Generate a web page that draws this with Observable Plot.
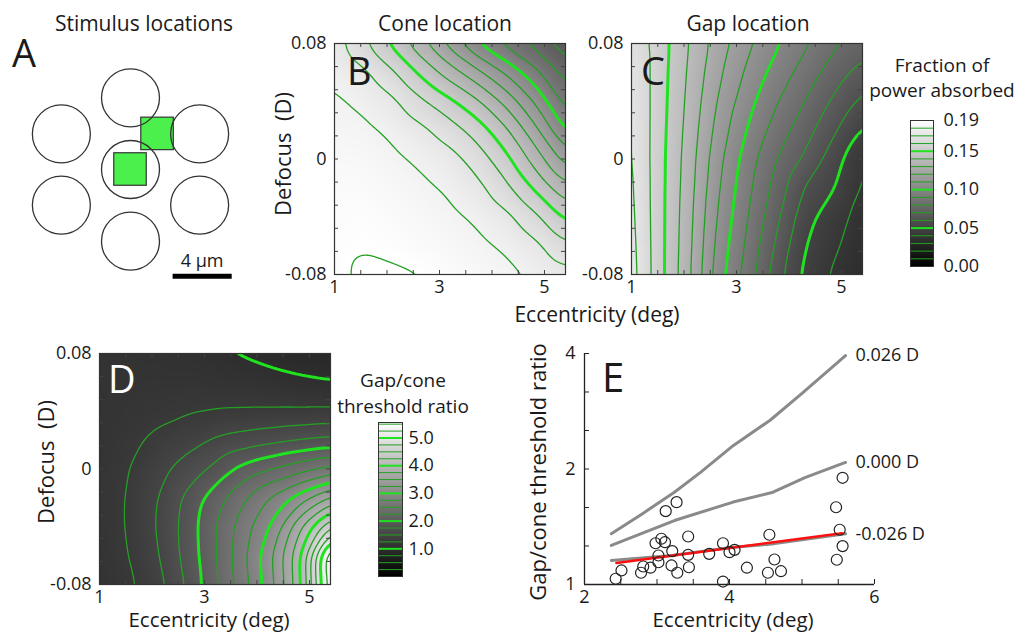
<!DOCTYPE html>
<html><head><meta charset="utf-8">
<script src="https://cdn.jsdelivr.net/npm/d3@7"></script>
<script src="https://cdn.jsdelivr.net/npm/@observablehq/plot@0.6"></script>
<style>
body{margin:0;background:#fff;}
#fig{position:relative;width:1018px;height:634px;overflow:hidden;background:#fff;}
</style></head><body><div id="fig"></div>
<script>
// ---------- Panel A: stimulus geometry (micrometres) ----------
const coneX = [0, -4.68, 4.68, 0, -4.68, 4.68, 0];
const coneY = [4.85, 2.41, 2.41, 0, -2.41, -2.41, -4.85];
const stimX = [0, 1.83];
const stimY = [0, 2.41];
const scaleBarUm = 4;
const scaleBarLabel = "4 µm";

// ---------- Panels B, C, D: sampled fields ----------
const gridEcc = [1, 1.55, 2.1, 2.65, 3.2, 3.75, 4.3, 4.85, 5.4];
const gridDefocus = [0.08, 0.06, 0.04, 0.02, 0, -0.02, -0.04, -0.06, -0.08];
const coneAbsorbed = [
  [0.1745, 0.162, 0.148, 0.133, 0.116, 0.099, 0.086, 0.076, 0.064],
  [0.178, 0.1725, 0.162, 0.148, 0.135, 0.122, 0.108, 0.092, 0.076],
  [0.1815, 0.1785, 0.1725, 0.162, 0.152, 0.141, 0.126, 0.108, 0.086],
  [0.183, 0.182, 0.1785, 0.1725, 0.165, 0.155, 0.141, 0.122, 0.099],
  [0.185, 0.1845, 0.182, 0.1785, 0.174, 0.165, 0.152, 0.135, 0.116],
  [0.1865, 0.1865, 0.1845, 0.182, 0.1785, 0.1725, 0.162, 0.148, 0.133],
  [0.1875, 0.1885, 0.1865, 0.1845, 0.182, 0.1785, 0.1725, 0.162, 0.148],
  [0.1885, 0.1895, 0.1885, 0.1865, 0.1845, 0.182, 0.1785, 0.1725, 0.162],
  [0.188, 0.1915, 0.191, 0.1902, 0.1875, 0.185, 0.1825, 0.178, 0.1735]
];
const gapAbsorbed = [
  [0.168, 0.1545, 0.1397, 0.1252, 0.1126, 0.1016, 0.0918, 0.082, 0.075],
  [0.1705, 0.1541, 0.1385, 0.1222, 0.1083, 0.0964, 0.086, 0.0753, 0.0663],
  [0.171, 0.1538, 0.1374, 0.1191, 0.1039, 0.0911, 0.0802, 0.0685, 0.0575],
  [0.1715, 0.1534, 0.1362, 0.1161, 0.0996, 0.0859, 0.0744, 0.0618, 0.0488],
  [0.172, 0.153, 0.135, 0.113, 0.0952, 0.0806, 0.0686, 0.055, 0.040],
  [0.1728, 0.153, 0.1343, 0.1109, 0.0929, 0.0767, 0.059, 0.0509, 0.0383],
  [0.1735, 0.153, 0.1335, 0.1088, 0.0906, 0.0728, 0.054, 0.044, 0.0365],
  [0.1743, 0.153, 0.1328, 0.1066, 0.0883, 0.0689, 0.05, 0.0415, 0.0348],
  [0.175, 0.153, 0.132, 0.1045, 0.086, 0.065, 0.0474, 0.0385, 0.033]
];
const gapConeRatio = [
  [1.1, 1.1, 1.09, 1.06, 1.02, 0.98, 0.93, 0.9, 0.88],
  [1.11, 1.12, 1.13, 1.13, 1.12, 1.1, 1.07, 1.03, 1.0],
  [1.12, 1.15, 1.19, 1.22, 1.252, 1.26, 1.265, 1.27, 1.28],
  [1.13, 1.2, 1.3, 1.4, 1.52, 1.6, 1.67, 1.74, 1.8],
  [1.14, 1.24, 1.42, 1.61, 1.81, 2.08, 2.25, 2.42, 2.57],
  [1.14, 1.26, 1.49, 1.8, 2.14, 2.47, 2.8, 3.15, 3.55],
  [1.14, 1.26, 1.51, 1.84, 2.24, 2.65, 3.05, 3.76, 4.5],
  [1.13, 1.24, 1.47, 1.83, 2.22, 2.7, 3.25, 4.0, 5.6],
  [1.12, 1.2, 1.4, 1.77, 2.2, 2.65, 3.2, 3.97, 5.5]
];
const eccTicks = [1, 3, 5];
const eccTickLabels = ["1", "3", "5"];
const defocusTicks = [-0.08, 0, 0.08];
const defocusTickLabels = ["-0.08", "0", "0.08"];
const eccMinor = [1.5, 2, 2.5, 3, 3.5, 4, 4.5, 5];
const defocusMinor = [-0.064, -0.048, -0.032, -0.016, 0, 0.016, 0.032, 0.048, 0.064];
const absorbedMax = 0.19;
const absorbedTicks = [0, 0.05, 0.10, 0.15, 0.19];
const absorbedTickLabels = ["0.00", "0.05", "0.10", "0.15", "0.19"];
const absorbedThick = [0.05, 0.10, 0.15];
const absorbedThin = [0.01,0.02,0.03,0.04,0.06,0.07,0.08,0.09,0.11,0.12,0.13,0.14,0.16,0.17,0.18,0.19];
const ratioMax = 5.56;
const ratioTicks = [1, 2, 3, 4, 5];
const ratioTickLabels = ["1.0", "2.0", "3.0", "4.0", "5.0"];
const ratioThick = [1, 2, 3, 4, 5];
const ratioThin = [0.25,0.5,0.75,1.25,1.5,1.75,2.25,2.5,2.75,3.25,3.5,3.75,4.25,4.5,4.75,5.25,5.5];

// ---------- Panel E ----------
const obsEcc = [2.43,2.51,2.78,2.81,2.91,2.98,3.02,3.02,3.06,3.11,3.12,3.2,3.21,3.27,3.28,3.43,3.43,3.44,3.72,3.91,3.91,4.0,4.07,4.24,4.53,4.55,4.62,4.71,5.47,5.48,5.52,5.56,5.56];
const obsRatio = [1.035,1.088,1.073,1.114,1.106,1.281,1.19,1.143,1.316,1.289,1.553,1.121,1.222,1.639,1.073,1.334,1.195,1.109,1.202,1.281,1.018,1.214,1.231,1.106,1.073,1.348,1.162,1.083,1.59,1.16,1.389,1.897,1.259];
const curvePosEcc = [2.37, 2.8, 3.24, 3.6, 4.05, 4.56, 5.0, 5.6];
const curvePosRatio = [1.356, 1.53, 1.74, 1.96, 2.3, 2.68, 3.15, 3.95];
const curveZeroEcc = [2.37, 3.24, 4.05, 4.6, 5.04, 5.6];
const curveZeroRatio = [1.264, 1.468, 1.64, 1.74, 1.9, 2.08];
const curveNegEcc = [2.37, 3.2, 4.05, 4.6, 5.6];
const curveNegRatio = [1.155, 1.19, 1.251, 1.276, 1.356];
const fitEcc = [2.44, 5.55];
const fitRatio = [1.137, 1.36];
const curveLabels = ["0.026 D", "0.000 D", "-0.026 D"];
const eTicksX = [2, 4, 6];
const eTicksXLabels = ["2", "4", "6"];
const eTicksY = [1, 2, 4];
const eTicksYLabels = ["1", "2", "4"];
const eMinorX = [2.5, 3, 3.5, 4, 4.5, 5, 5.5, 6];
const eMinorY = [1.26, 1.587, 2, 2.52, 3.175, 4];

// ---------- drawing ----------
const fig = document.getElementById("fig");
const FONT = '"Open Sans", sans-serif';
const style = {fontFamily: FONT, fontSize: "18px", color: "#1a1a1a", background: "transparent", overflow: "visible"};
const THIN = "#23a023", THICK = "#1ee31e";
function place(node, left, top) {
  node.style.position = "absolute";
  node.style.left = left + "px";
  node.style.top = top + "px";
  fig.appendChild(node);
}
const lookup = (ticks, labels) => d => labels[ticks.findIndex(t => Math.abs(t - d) < 1e-9)];

// Panel A
const cones = coneX.map((x, i) => ({x, y: coneY[i]}));
const stims = stimX.map((x, i) => ({x, y: stimY[i]}));
const half = 1.1;
place(Plot.plot({
  width: 260, height: 260, margin: 0,
  x: {domain: [-8.8, 8.8], axis: null}, y: {domain: [-8.8, 8.8], axis: null},
  style,
  marks: [
    Plot.rect(stims, {x1: d => d.x - half, x2: d => d.x + half, y1: d => d.y - half, y2: d => d.y + half, fill: "#4cf04c", stroke: "#333", strokeWidth: 1.2}),
    Plot.dot(cones, {x: "x", y: "y", r: 29, stroke: "#333", strokeWidth: 1.3, fill: "none"}),
    Plot.link([{x1: 2.85, x2: 2.85 + scaleBarUm, y: -7.22}], {x1: "x1", x2: "x2", y1: "y", y2: "y", stroke: "#000", strokeWidth: 5}),
    Plot.text([scaleBarLabel], {x: 2.85 + scaleBarUm / 2, y: -6.2, text: d => d, fontSize: 18})
  ]
}), 0, 38.5);

// samples on the grid; the contour copy repeats the edge samples just outside the frame
// so that contour outlines close outside the clipped frame
function toTable(rows, pad) {
  const xs = pad ? [0.8, ...gridEcc, 5.6] : gridEcc;
  const ys = pad ? [0.09, ...gridDefocus, -0.09] : gridDefocus;
  const o = pad ? 1 : 0;
  const out = [];
  ys.forEach((y, j) => xs.forEach((x, i) => {
    const jj = Math.min(Math.max(j - o, 0), rows.length - 1);
    const ii = Math.min(Math.max(i - o, 0), rows[0].length - 1);
    out.push({ecc: x, def: y, v: rows[jj][ii]});
  }));
  return out;
}
function fieldPlot(rows, cmax, thin, thick) {
  const t = toTable(rows, false);
  const tp = toTable(rows, true);
  const ext = {x1: 1, x2: 5.4, y1: -0.08, y2: 0.08};
  const wide = {x1: 0.8, x2: 5.6, y1: -0.09, y2: 0.09};
  const base = {x: "ecc", y: "def", value: "v", interpolate: "barycentric", ...wide, pixelSize: 1, blur: 7, fill: "none", clip: true};
  return Plot.plot({
    width: 309, height: 281, marginLeft: 70, marginRight: 8, marginTop: 10, marginBottom: 40,
    x: {domain: [1, 5.4]}, y: {domain: [-0.08, 0.08]},
    color: {type: "linear", domain: [0, cmax], range: ["#000000", "#ffffff"]},
    style,
    marks: [
      Plot.raster(t, {x: "ecc", y: "def", fill: "v", interpolate: "barycentric", ...ext, pixelSize: 1, blur: 5}),
      Plot.contour(tp, {...base, thresholds: thin, stroke: THIN, strokeWidth: 1.3}),
      Plot.contour(tp, {...base, thresholds: thick, stroke: THICK, strokeWidth: 3}),
      Plot.tickY(defocusMinor, {y: d => d, insetRight: 227, stroke: "#444"}),
      Plot.tickY(defocusMinor, {y: d => d, insetLeft: 227, stroke: "#444"}),
      Plot.tickX(eccMinor, {x: d => d, insetBottom: 227, stroke: "#444"}),
      Plot.tickX(eccMinor, {x: d => d, insetTop: 227, stroke: "#444"}),
      Plot.frame({stroke: "#333", strokeWidth: 1.2}),
      Plot.axisX(eccTicks, {label: null, tickSize: 0, tickPadding: 6, tickFormat: lookup(eccTicks, eccTickLabels)}),
      Plot.axisY(defocusTicks, {label: null, tickSize: 0, tickPadding: 8, tickFormat: lookup(defocusTicks, defocusTickLabels)})
    ]
  });
}
place(fieldPlot(coneAbsorbed, absorbedMax, absorbedThin, absorbedThick), 264, 33);
place(fieldPlot(gapAbsorbed, absorbedMax, absorbedThin, absorbedThick), 561, 33);
place(fieldPlot(gapConeRatio, ratioMax, ratioThin, ratioThick), 29, 343);

function colorbar(cmax, thin, thick, ticks, labels, w, h, mr, pad) {
  return Plot.plot({
    width: 5 + w + mr, height: 8 + h + 8, marginLeft: 5, marginRight: mr, marginTop: 8, marginBottom: 8,
    x: {domain: [0, 1], axis: null}, y: {domain: [0, cmax]},
    color: {type: "linear", domain: [0, cmax], range: ["#000000", "#ffffff"]},
    style,
    marks: [
      Plot.raster({fill: (x, y) => y, x1: 0, x2: 1, y1: 0, y2: cmax, width: 2, height: 300}),
      Plot.ruleY(thin, {stroke: THIN, strokeWidth: 1}),
      Plot.ruleY(thick, {stroke: THICK, strokeWidth: 2}),
      Plot.frame({stroke: "#333"}),
      Plot.axisY(ticks, {anchor: "right", label: null, tickSize: 0, tickPadding: pad, tickFormat: lookup(ticks, labels)})
    ]
  });
}
place(colorbar(absorbedMax, absorbedThin, absorbedThick, absorbedTicks, absorbedTickLabels, 23, 146, 60, 10), 905, 112);
place(colorbar(ratioMax, ratioThin, ratioThick, ratioTicks, ratioTickLabels, 24, 154, 50, 6), 373, 414);

// Panel E
const obs = obsEcc.map((x, i) => ({x, y: obsRatio[i]}));
const curves = [
  curvePosEcc.map((x, i) => ({x, y: curvePosRatio[i], k: 0})),
  curveZeroEcc.map((x, i) => ({x, y: curveZeroRatio[i], k: 1})),
  curveNegEcc.map((x, i) => ({x, y: curveNegRatio[i], k: 2}))
];
const fit = fitEcc.map((x, i) => ({x, y: fitRatio[i]}));
const ends = curves.map((c, k) => ({...c[c.length - 1], label: curveLabels[k]}));
place(Plot.plot({
  width: 490, height: 291, marginLeft: 70, marginRight: 130, marginTop: 10, marginBottom: 50,
  x: {domain: [2, 6]}, y: {type: "log", domain: [1, 4]},
  style,
  marks: [
    ...curves.map(c => Plot.line(c, {x: "x", y: "y", stroke: "#8a8a8a", strokeWidth: 3})),
    Plot.line(fit, {x: "x", y: "y", stroke: "#ff1010", strokeWidth: 2.5}),
    Plot.dot(obs, {x: "x", y: "y", r: 5.5, stroke: "#222", strokeWidth: 1.2, fill: "none"}),
    Plot.text(ends, {x: "x", y: "y", text: "label", dx: 10, textAnchor: "start", fontSize: 18}),
    Plot.tickX(eMinorX, {x: d => d, insetTop: 226, stroke: "#222"}),
    Plot.tickY(eMinorY, {y: d => d, insetRight: 285, stroke: "#222"}),
    Plot.ruleX([2], {stroke: "#222", strokeWidth: 1.3}),
    Plot.ruleY([1], {stroke: "#222", strokeWidth: 1.3}),
    Plot.axisX(eTicksX, {label: null, tickSize: 0, tickPadding: 6, tickFormat: lookup(eTicksX, eTicksXLabels)}),
    Plot.axisY(eTicksY, {label: null, tickSize: 0, tickPadding: 9, tickFormat: lookup(eTicksY, eTicksYLabels)})
  ]
}), 514, 343);

// Text overlay: titles, axis labels, panel letters
const ov = d3.create("svg").attr("width", 1018).attr("height", 634)
  .style("position", "absolute").style("left", "0px").style("top", "0px")
  .style("pointer-events", "none").style("font-family", FONT);
function txt(s, x, y, size, anchor = "middle", rot = 0, color = "#1a1a1a") {
  const t = ov.append("text").attr("x", x).attr("y", y).attr("font-size", size)
    .attr("text-anchor", anchor).attr("fill", color).attr("xml:space", "preserve")
    .style("white-space", "pre").text(s);
  if (rot) t.attr("transform", `rotate(${rot},${x},${y})`);
}
txt("Stimulus locations", 144, 31, 21);
txt("Cone location", 445, 31, 21);
txt("Gap location", 748, 31, 21);
txt("Fraction of", 942, 72, 19);
txt("power absorbed", 942, 97, 19);
txt("Gap/cone", 403, 387, 19);
txt("threshold ratio", 403, 413, 19);
txt("Defocus  (D)", 291, 154, 22, "middle", -90);
txt("Defocus  (D)", 54, 462, 22, "middle", -90);
txt("Gap/cone threshold ratio", 546, 472, 22, "middle", -90);
txt("Eccentricity (deg)", 597, 322, 21);
txt("Eccentricity (deg)", 209, 627, 20.5);
txt("Eccentricity (deg)", 733, 627, 20.5);
txt("A", 12, 67, 38, "start");
txt("B", 347, 85, 38, "start");
txt("C", 641, 85, 38, "start");
txt("D", 108, 393, 38, "start", 0, "#ffffff");
txt("E", 602, 392, 40, "start");
fig.appendChild(ov.node());
</script></body></html>
